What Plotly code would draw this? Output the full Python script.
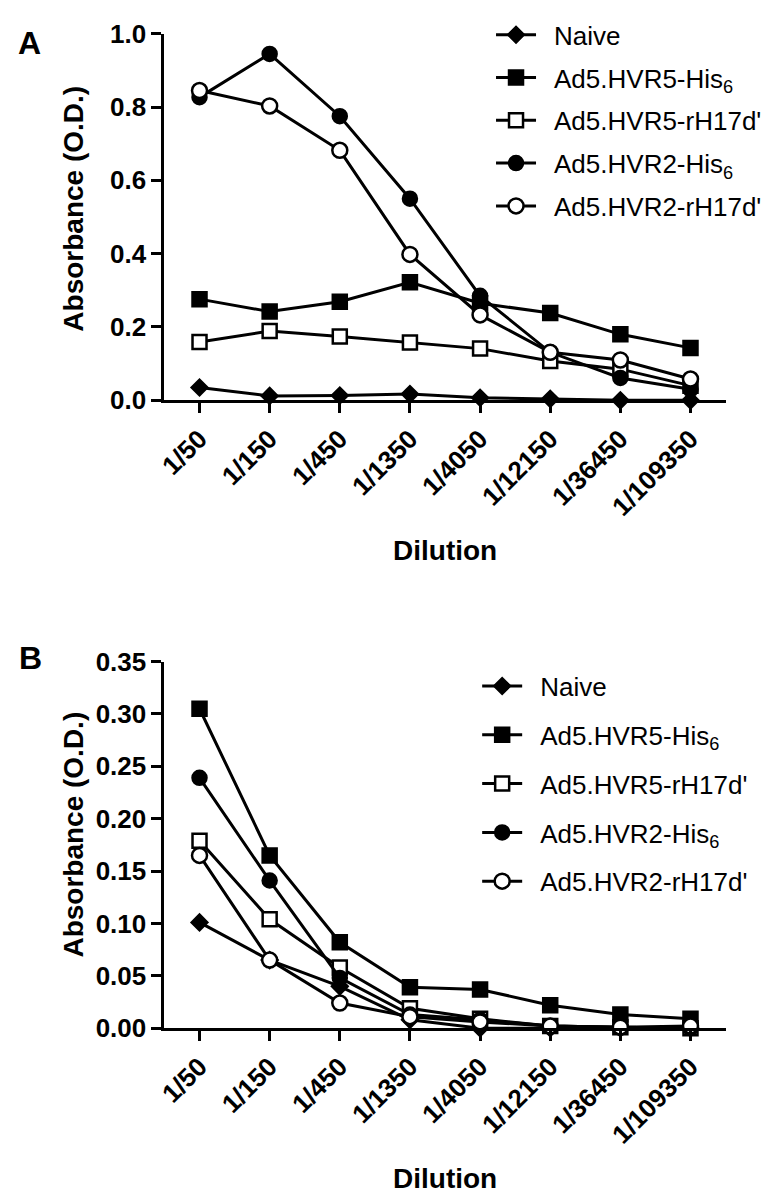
import plotly.graph_objects as go

# dilution categories shared by both panels
dilutions = ['1/50', '1/150', '1/450', '1/1350', '1/4050', '1/12150', '1/36450', '1/109350']

names = ['Naive', 'Ad5.HVR5-His<sub>6</sub>', "Ad5.HVR5-rH17d'",
         'Ad5.HVR2-His<sub>6</sub>', "Ad5.HVR2-rH17d'"]

# panel A values (O.D.)
a_naive = [0.035, 0.012, 0.013, 0.017, 0.007, 0.004, 0.0, 0.0]
a_hvr5_his = [0.276, 0.242, 0.269, 0.322, 0.265, 0.238, 0.180, 0.143]
a_hvr5_rh = [0.159, 0.189, 0.174, 0.158, 0.141, 0.107, 0.085, 0.040]
a_hvr2_his = [0.827, 0.945, 0.775, 0.550, 0.285, 0.131, 0.061, 0.030]
a_hvr2_rh = [0.845, 0.803, 0.682, 0.398, 0.233, 0.131, 0.110, 0.058]

# panel B values (O.D.)
b_naive = [0.101, 0.065, 0.040, 0.008, 0.0, 0.0, 0.0, 0.0]
b_hvr5_his = [0.305, 0.165, 0.082, 0.039, 0.037, 0.022, 0.013, 0.009]
b_hvr5_rh = [0.179, 0.104, 0.058, 0.019, 0.009, 0.002, 0.001, 0.0]
b_hvr2_his = [0.239, 0.141, 0.048, 0.013, 0.008, 0.002, 0.001, 0.0]
b_hvr2_rh = [0.165, 0.065, 0.024, 0.011, 0.006, 0.002, 0.001, 0.002]

FONT = 'Liberation Sans, Arial, sans-serif'
W, H = 772, 1199

# marker style per series: symbol, fill, size
styles = [
    ('diamond', 'black', 12),
    ('square', 'black', 14),
    ('square', 'white', 14),
    ('circle', 'black', 14),
    ('circle', 'white', 15),
]

fig = go.Figure()

panels = [
    ('x', 'y', 'legend', [a_naive, a_hvr5_his, a_hvr5_rh, a_hvr2_his, a_hvr2_rh]),
    ('x2', 'y2', 'legend2', [b_naive, b_hvr5_his, b_hvr5_rh, b_hvr2_his, b_hvr2_rh]),
]

for xa, ya, leg, series in panels:
    for i, (name, vals) in enumerate(zip(names, series)):
        sym, fill, size = styles[i]
        fig.add_trace(go.Scatter(
            x=dilutions, y=vals, name='\u2002' + name, xaxis=xa, yaxis=ya,
            mode='lines+markers', legend=leg, legendgroup=f'{leg}{i}',
            line=dict(color='black', width=3),
            marker=dict(symbol=sym, color=fill, size=size,
                        line=dict(color='black', width=2.5)),
            cliponaxis=False,
        ))

axis_common = dict(
    showline=True, linecolor='black', linewidth=3,
    ticks='outside', ticklen=10, tickwidth=3, tickcolor='black',
    showgrid=False, zeroline=False,
    tickfont=dict(family=FONT, size=26, color='black', weight='bold'),
)


def px_to_x(p):
    return p / W


def px_to_y(p):
    return 1 - p / H


legend_font = dict(family=FONT, size=26, color='black')

fig.update_layout(
    width=W, height=H,
    margin=dict(l=0, r=0, t=0, b=0),
    plot_bgcolor='white', paper_bgcolor='white',
    font=dict(family=FONT, color='black'),
    xaxis=dict(axis_common, domain=[px_to_x(150), px_to_x(717)], anchor='y',
               type='category', range=[-0.5, 7.5], tickangle=-45),
    yaxis=dict(axis_common, domain=[px_to_y(387), px_to_y(11)], anchor='x',
               range=[0, 1.0], dtick=0.2, tickformat='.1f'),
    xaxis2=dict(axis_common, domain=[px_to_x(150), px_to_x(717)], anchor='y2',
                type='category', range=[-0.5, 7.5], tickangle=-45),
    yaxis2=dict(axis_common, domain=[px_to_y(1031), px_to_y(655)], anchor='x2',
                range=[0, 0.35], dtick=0.05, tickformat='.2f'),
    legend=dict(x=px_to_x(480), y=px_to_y(-12), xanchor='left', yanchor='top',
                font=legend_font, tracegroupgap=6, itemwidth=40,
                bgcolor='rgba(0,0,0,0)'),
    legend2=dict(x=px_to_x(466), y=px_to_y(656), xanchor='left', yanchor='top',
                 font=legend_font, tracegroupgap=12, itemwidth=40,
                 bgcolor='rgba(0,0,0,0)'),
)

title_font = dict(family=FONT, size=28, color='black', weight='bold')
annotations = [
    dict(text='A', x=px_to_x(14), y=px_to_y(21), font=dict(family=FONT, size=32, color='black', weight='bold')),
    dict(text='B', x=px_to_x(15), y=px_to_y(651), font=dict(family=FONT, size=32, color='black', weight='bold')),
    dict(text='Absorbance (O.D.)', x=px_to_x(58), y=px_to_y(190), textangle=-90, font=title_font),
    dict(text='Absorbance (O.D.)', x=px_to_x(58), y=px_to_y(832), textangle=-90, font=title_font),
    dict(text='Dilution', x=px_to_x(433), y=px_to_y(541), font=title_font),
    dict(text='Dilution', x=px_to_x(433), y=px_to_y(1185), font=title_font),
]
for a in annotations:
    fig.add_annotation(xref='paper', yref='paper', showarrow=False,
                       xanchor='center', yanchor='middle', **a)

fig.write_html('out.html')
